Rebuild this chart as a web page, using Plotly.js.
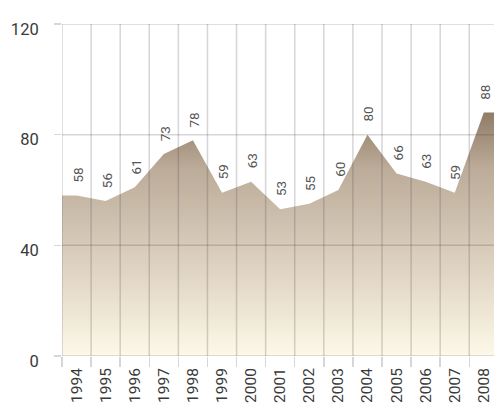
<!DOCTYPE html>
<html>
<head>
<meta charset="utf-8">
<script src="https://cdn.plot.ly/plotly-3.0.1.min.js"></script>
<style>html,body{margin:0;padding:0;background:#fff;}#chart{width:494px;height:405px;}</style>
</head>
<body>
<div id="chart"></div>
<script>
const years = ["1994","1995","1996","1997","1998","1999","2000","2001","2002","2003","2004","2005","2006","2007","2008"];
const values = [58, 56, 61, 73, 78, 59, 63, 53, 55, 60, 80, 66, 63, 59, 88];
const yTicks = [0, 40, 80, 120];

const idx = years.map((_, i) => i);
const n = years.length;
// extend the area to the plot edges with the end values
const ax = [-0.5].concat(idx, [n - 0.5]);
const ay = [values[0]].concat(values, [values[n - 1]]);

const area = {
  x: ax, y: ay, type: 'scatter', mode: 'lines',
  line: {width: 0, color: 'rgba(0,0,0,0)'},
  fill: 'tozeroy',
  fillgradient: {
    type: 'vertical', start: 0, stop: 90,
    colorscale: [[0, '#fcf9e9'], [0.2, '#ece3d2'], [0.45, '#d6c9b8'], [0.75, '#bcac99'], [1, '#8c7762']]
  },
  hoverinfo: 'skip', showlegend: false
};

const boundaries = [];
for (let i = 0; i <= n; i++) boundaries.push(i - 0.5);

const shapes = [];
boundaries.forEach(b => shapes.push({type: 'line', xref: 'x', yref: 'y', x0: b, x1: b, y0: 0, y1: 120, layer: 'above', line: {color: 'rgba(70,65,75,0.22)', width: 1.5}}));
yTicks.forEach(t => shapes.push({type: 'line', xref: 'paper', yref: 'y', x0: 0, x1: 1, y0: t, y1: t, layer: 'above', line: {color: 'rgba(70,65,75,0.22)', width: 1.5}}));

const annotations = values.map((v, i) => ({
  x: i, y: v, xref: 'x', yref: 'y', text: String(v), showarrow: false,
  textangle: -90, yanchor: 'bottom', yshift: 11, xshift: 1,
  font: {family: 'Roboto, sans-serif', size: 13.5, color: '#555'}
}));

const layout = {
  width: 494, height: 405,
  margin: {l: 62, r: 0, t: 24, b: 49},
  paper_bgcolor: '#fff', plot_bgcolor: '#fff',
  showlegend: false,
  xaxis: {
    range: [-0.5, 14.35], tickvals: idx, ticktext: years, tickangle: -90,
    showgrid: false, zeroline: false, showline: false, ticks: '',
    ticklabelstandoff: 8, ticklabeloverflow: 'allow',
    tickfont: {family: 'Roboto, sans-serif', size: 15.5, color: '#3a3a3a'}
  },
  xaxis2: {
    overlaying: 'x', matches: 'x', side: 'bottom',
    range: [-0.5, 14.35], tickvals: boundaries, showticklabels: false,
    ticks: 'outside', ticklen: 10, tickcolor: 'rgba(70,65,75,0.22)', tickwidth: 1.5,
    showgrid: false, zeroline: false, showline: false
  },
  yaxis: {
    range: [0, 120], tickvals: yTicks, showgrid: false, zeroline: false, showline: false,
    ticks: 'outside', ticklen: 7, tickcolor: 'rgba(70,65,75,0.22)', tickwidth: 1.5,
    ticklabelstandoff: 12, ticklabelshift: 5,
    tickfont: {family: 'Roboto, sans-serif', size: 16.5, color: '#3a3a3a'}
  },
  shapes: shapes,
  annotations: annotations
};

const dummy = {x: [0], y: [0], xaxis: 'x2', type: 'scatter', mode: 'markers', marker: {opacity: 0}, hoverinfo: 'skip', showlegend: false};

Plotly.newPlot('chart', [area, dummy], layout, {displayModeBar: false, staticPlot: true});
</script>
</body>
</html>
